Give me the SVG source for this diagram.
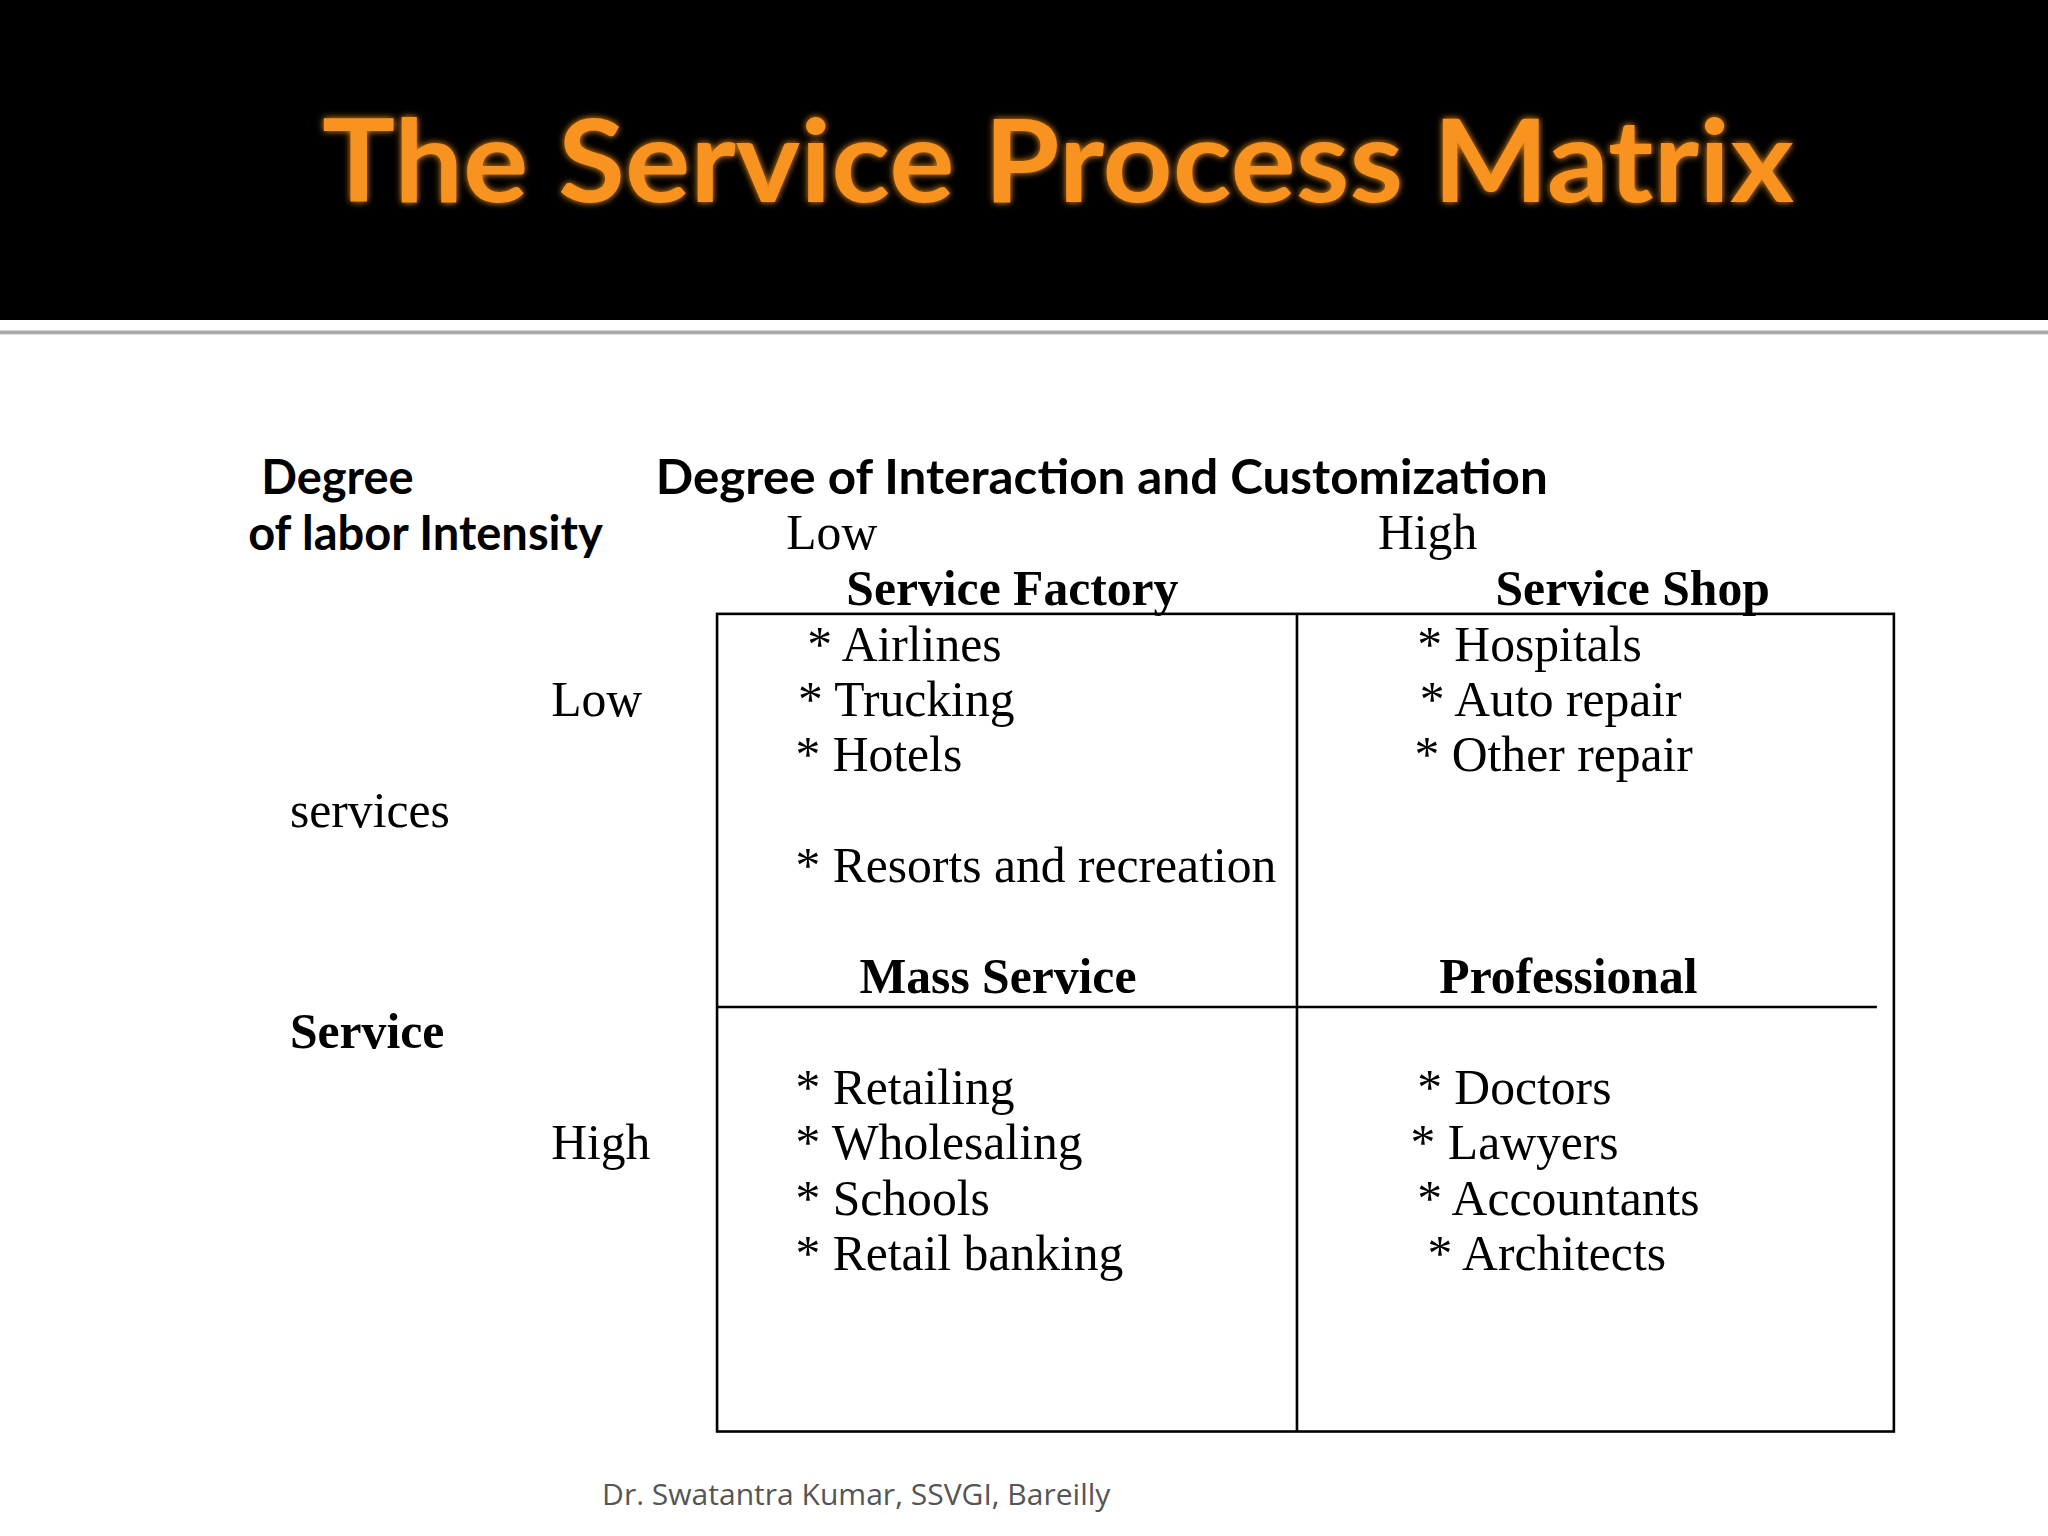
<svg xmlns="http://www.w3.org/2000/svg" width="2048" height="1536" viewBox="0 0 2048 1536">
<style>
.s{font-family:"Liberation Serif","Times New Roman",serif;font-size:38px;fill:#000}
.b{font-weight:bold}
.c{font-family:Lato,"Open Sans","Liberation Sans",sans-serif;font-size:36px;font-weight:bold;fill:#000}
.ln{stroke:#000;stroke-width:2;fill:none}
</style>
<defs><filter id="g" x="-5%" y="-20%" width="110%" height="140%"><feGaussianBlur stdDeviation="3"/></filter></defs>
<rect width="2048" height="1536" fill="#fff"/>
<g transform="scale(1.30612)">
<g id="header">
<rect x="0" y="0" width="1568" height="245" fill="#000"/>
<rect x="0" y="253" width="1568" height="3" fill="#aaa"/>
<text x="810" y="155" text-anchor="middle" font-family="Lato,'Open Sans',sans-serif" font-size="88" font-weight="bold" fill="#f7931e" filter="url(#g)" textLength="1127" lengthAdjust="spacingAndGlyphs">The Service Process Matrix</text>
<text x="810" y="155" text-anchor="middle" font-family="Lato,'Open Sans',sans-serif" font-size="88" font-weight="bold" fill="#f7931e" textLength="1127" lengthAdjust="spacingAndGlyphs">The Service Process Matrix</text>
</g>
<g id="axes">
<text class="c" x="200" y="378">Degree</text>
<text class="c" x="190" y="421">of labor Intensity</text>
<text class="c" x="502" y="378" textLength="683" lengthAdjust="spacingAndGlyphs">Degree of Interaction and Customization</text>
<text class="s" x="602" y="420">Low</text>
<text class="s" x="1055" y="420">High</text>
<text class="s" x="422" y="548">Low</text>
<text class="s" x="222" y="633">services</text>
<text class="s b" x="222" y="802">Service</text>
<text class="s" x="422" y="887">High</text>
</g>
<g id="connectors">
<rect class="ln" x="549" y="470" width="901" height="626"/>
<line class="ln" x1="993" y1="470" x2="993" y2="1096"/>
<line class="ln" x1="549" y1="771" x2="1437" y2="771"/>
</g>
<g id="factory">
<text class="s b" x="648" y="463">Service Factory</text>
<text class="s" x="618" y="506">*  Airlines</text>
<text class="s" x="611" y="548">*  Trucking</text>
<text class="s" x="609" y="590">*  Hotels</text>
<text class="s" x="609" y="675">*  Resorts and recreation</text>
</g>
<g id="shop">
<text class="s b" x="1145" y="463">Service Shop</text>
<text class="s" x="1085" y="506">*  Hospitals</text>
<text class="s" x="1087" y="548">*  Auto repair</text>
<text class="s" x="1083" y="590">*  Other repair</text>
</g>
<g id="mass">
<text class="s b" x="658" y="760">Mass Service</text>
<text class="s" x="609" y="845">* Retailing</text>
<text class="s" x="609" y="887">* Wholesaling</text>
<text class="s" x="609" y="930">*  Schools</text>
<text class="s" x="609" y="972">*  Retail banking</text>
</g>
<g id="professional">
<text class="s b" x="1102" y="760">Professional</text>
<text class="s" x="1085" y="845">* Doctors</text>
<text class="s" x="1080" y="887">* Lawyers</text>
<text class="s" x="1085" y="930">* Accountants</text>
<text class="s" x="1093" y="972">* Architects</text>
</g>
<text x="461" y="1152" font-family="'Open Sans',Lato,sans-serif" font-size="23" fill="#555">Dr. Swatantra Kumar, SSVGI, Bareilly</text>
</g>
</svg>
